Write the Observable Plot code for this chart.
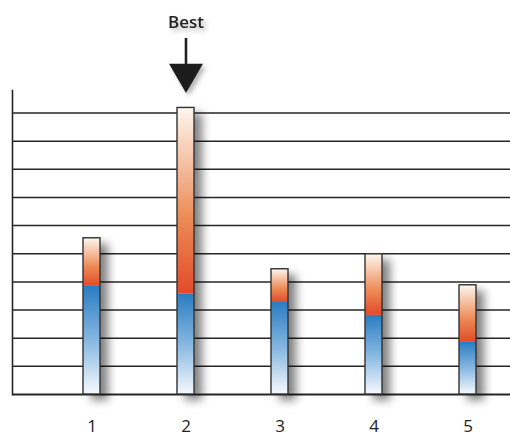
<!DOCTYPE html>
<html>
<head>
<meta charset="utf-8">
<script src="https://cdn.jsdelivr.net/npm/d3@7"></script>
<script src="https://cdn.jsdelivr.net/npm/@observablehq/plot@0.6"></script>
<style>
  html, body { margin: 0; padding: 0; background: #fff; }
  #chart svg { display: block; overflow: visible; }
</style>
</head>
<body>
<div id="chart"></div>
<script>
// Data
const categories = [1, 2, 3, 4, 5];
const baseValues = [3.84, 3.56, 3.27, 2.81, 1.85];   // blue (lower) segment
const totalValues = [5.55, 10.18, 4.45, 4.98, 3.88]; // bar top
const gridValues = [1, 2, 3, 4, 5, 6, 7, 8, 9, 10];
const bestLabel = "Best";

const rows = categories.map((c, i) => ({cat: c, base: baseValues[i], total: totalValues[i]}));
const bestIndex = d3.maxIndex(totalValues);
const best = [{cat: categories[bestIndex], total: totalValues[bestIndex], label: bestLabel}];

const defs = () => {
  const ns = "http://www.w3.org/2000/svg";
  const d = document.createElementNS(ns, "defs");
  d.innerHTML = `
    <linearGradient id="gBlue" x1="0" y1="1" x2="0" y2="0">
      <stop offset="0" stop-color="#f6f9fd"/>
      <stop offset="0.5" stop-color="#86b7e1"/>
      <stop offset="1" stop-color="#2a7cc2"/>
    </linearGradient>
    <linearGradient id="gOrange" x1="0" y1="1" x2="0" y2="0">
      <stop offset="0" stop-color="#e24a2b"/>
      <stop offset="0.4" stop-color="#ec8a55"/>
      <stop offset="1" stop-color="#fdf7ef"/>
    </linearGradient>
    <filter id="shadow" x="-80%" y="-10%" width="350%" height="130%">
      <feGaussianBlur in="SourceAlpha" stdDeviation="5"/>
      <feOffset dx="8" dy="6"/>
      <feComponentTransfer><feFuncA type="linear" slope="0.5"/></feComponentTransfer>
      <feMerge><feMergeNode/><feMergeNode in="SourceGraphic"/></feMerge>
    </filter>
    <filter id="shadowSmall" x="-50%" y="-50%" width="200%" height="200%">
      <feGaussianBlur in="SourceAlpha" stdDeviation="2.5"/>
      <feOffset dx="3" dy="3"/>
      <feComponentTransfer><feFuncA type="linear" slope="0.3"/></feComponentTransfer>
      <feMerge><feMergeNode/><feMergeNode in="SourceGraphic"/></feMerge>
    </filter>`;
  return d;
};

const chart = Plot.plot({
  width: 510,
  height: 437,
  marginTop: 90,
  marginBottom: 43,
  marginLeft: 12,
  marginRight: 0,
  style: {background: "#fff", fontFamily: "'Open Sans', sans-serif"},
  x: {type: "band", domain: categories, range: [42.6, 516.4], paddingInner: 0.82, paddingOuter: 0.41, axis: null},
  y: {domain: [0, 10.8], axis: null},
  marks: [
    defs,
    Plot.ruleY(gridValues, {stroke: "#262626", strokeWidth: 1.5}),
    Plot.frame({anchor: "left", stroke: "#262626", strokeWidth: 1.6}),
    Plot.ruleY([0], {stroke: "#262626", strokeWidth: 2}),
    Plot.barY(rows, {x: "cat", y: "total", fill: "#fff"}),
    Plot.barY(rows, {x: "cat", y1: 0, y2: "base", fill: "url(#gBlue)"}),
    Plot.barY(rows, {x: "cat", y1: "base", y2: "total", fill: "url(#gOrange)"}),
    Plot.ruleY(rows, {x: "cat", y: "base", stroke: "#f6d4c8", strokeWidth: 0.8}),
    Plot.barY(rows, {x: "cat", y: "total", fill: "none", stroke: "#333", strokeWidth: 1.4}),
    Plot.axisX({tickSize: 0, tickPadding: 25, fontSize: 17, fill: "#222", label: null, anchor: "bottom"}),
    // "Best" annotation
    Plot.ruleX(best, {x: "cat", y1: "total", y2: "total", insetTop: -69.5, insetBottom: 42, stroke: "#222", strokeWidth: 2.6}),
    Plot.dot(best, {x: "cat", y: "total", symbol: "triangle", r: 12.6, rotate: 180, fill: "#1e1e1e", stroke: "none", dy: -34.5}),
    Plot.text(best, {x: "cat", y: "total", text: "label", dy: -80, lineAnchor: "bottom", fontSize: 17, fontWeight: 600, fill: "#222", fontFamily: "'Open Sans', sans-serif"})
  ]
});
const barGroups = chart.querySelectorAll('g[aria-label="bar"]');
if (barGroups.length) barGroups[0].setAttribute("filter", "url(#shadow)");
chart.querySelectorAll('g[aria-label="dot"]').forEach(g => g.setAttribute("filter", "url(#shadowSmall)"));
chart.querySelectorAll('g[aria-label="text"]').forEach(g => g.setAttribute("filter", "url(#shadowSmall)"));
document.getElementById("chart").appendChild(chart);
</script>
</body>
</html>
